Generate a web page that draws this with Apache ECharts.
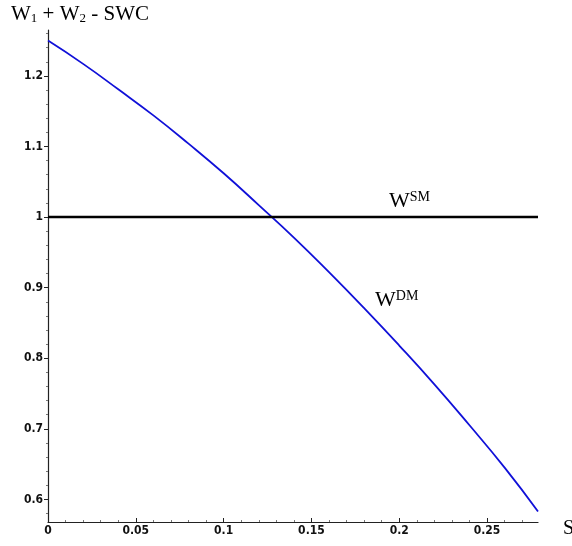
<!DOCTYPE html>
<html><head><meta charset="utf-8">
<script src="https://cdn.jsdelivr.net/npm/echarts@6/dist/echarts.min.js"></script>
<style>html,body{margin:0;padding:0;background:#fff}#c{width:572px;height:546px}</style>
</head><body><div id="c"></div>
<script>
// Data
const sValues = [0, 0.02, 0.04, 0.06, 0.08, 0.10, 0.12, 0.14, 0.16, 0.18, 0.20, 0.22, 0.24, 0.26, 0.279];
const wDM = [1.250, 1.217, 1.181, 1.144, 1.104, 1.062, 1.017, 0.971, 0.922, 0.871, 0.818, 0.763, 0.705, 0.645, 0.583];
const wSMs = [0, 0.279];
const wSM = [1, 1];
const xTicks = [0, 0.05, 0.1, 0.15, 0.2, 0.25];
const yTicks = [0.6, 0.7, 0.8, 0.9, 1, 1.1, 1.2];
const xMinor = [];
for (let i = 1; i <= 27; i++) { if (i % 5) xMinor.push(+(i * 0.01).toFixed(2)); }
const yMinor = [];
for (let i = 29; i <= 63; i++) { if (i % 5) yMinor.push(+(i * 0.02).toFixed(2)); }

const chart = echarts.init(document.getElementById('c'));
const labelFont = {fontFamily: 'DejaVu Sans Condensed, Liberation Sans', fontWeight: 'bold', fontSize: 12, color: '#111'};
const xr = {min: 0, max: 0.279};
const yr = {min: 0.568, max: 1.265};
chart.setOption({
  animation: false,
  grid: {left: 48, right: 34, top: 30, bottom: 24, containLabel: false},
  xAxis: [
    Object.assign({type: 'value', splitLine: {show: false},
      axisLine: {onZero: false, lineStyle: {color: '#222', width: 1.2}},
      axisTick: {inside: true, length: 4, customValues: xTicks, lineStyle: {color: '#222'}},
      axisLabel: Object.assign({customValues: xTicks, margin: 3, formatter: v => String(+v.toFixed(2))}, labelFont)
    }, xr),
    Object.assign({type: 'value', position: 'bottom', splitLine: {show: false},
      axisLine: {show: false},
      axisTick: {inside: true, length: 2, customValues: xMinor, lineStyle: {color: '#777'}},
      axisLabel: {show: false}
    }, xr)
  ],
  yAxis: [
    Object.assign({type: 'value', splitLine: {show: false},
      axisLine: {onZero: false, lineStyle: {color: '#222', width: 1.2}},
      axisTick: {length: 4, customValues: yTicks, lineStyle: {color: '#222'}},
      axisLabel: Object.assign({customValues: yTicks, margin: 5, formatter: v => String(+v.toFixed(1))}, labelFont)
    }, yr),
    Object.assign({type: 'value', position: 'left', splitLine: {show: false},
      axisLine: {show: false},
      axisTick: {length: 2, customValues: yMinor, lineStyle: {color: '#777'}},
      axisLabel: {show: false}
    }, yr)
  ],
  series: [
    {type: 'line', data: sValues.map((s, i) => [s, wDM[i]]), smooth: true, showSymbol: false,
      lineStyle: {color: '#1010d8', width: 1.8}},
    {type: 'line', data: wSMs.map((s, i) => [s, wSM[i]]), showSymbol: false,
      lineStyle: {color: '#000', width: 2.6}}
  ],
  graphic: [
    {type: 'text', left: 11, top: 4, style: {
      text: 'W{s|1} + W{s|2} - SWC', fontFamily: 'Liberation Serif', fontSize: 21, fill: '#000',
      rich: {s: {fontFamily: 'Liberation Serif', fontSize: 13, verticalAlign: 'bottom', padding: [8, 0, 0, 0]}}}},
    {type: 'text', left: 563, top: 519, style: {text: 'S', fontFamily: 'Liberation Serif', fontSize: 20, fill: '#000'}},
    {type: 'text', left: 389, top: 190, style: {
      text: 'W{p|SM}', fontFamily: 'Liberation Serif', fontSize: 22, fill: '#000',
      rich: {p: {fontFamily: 'Liberation Serif', fontSize: 14, verticalAlign: 'top', padding: [0, 0, 8, 0]}}}},
    {type: 'text', left: 375, top: 289, style: {
      text: 'W{p|DM}', fontFamily: 'Liberation Serif', fontSize: 22, fill: '#000',
      rich: {p: {fontFamily: 'Liberation Serif', fontSize: 14, verticalAlign: 'top', padding: [0, 0, 8, 0]}}}}
  ]
});
</script></body></html>
